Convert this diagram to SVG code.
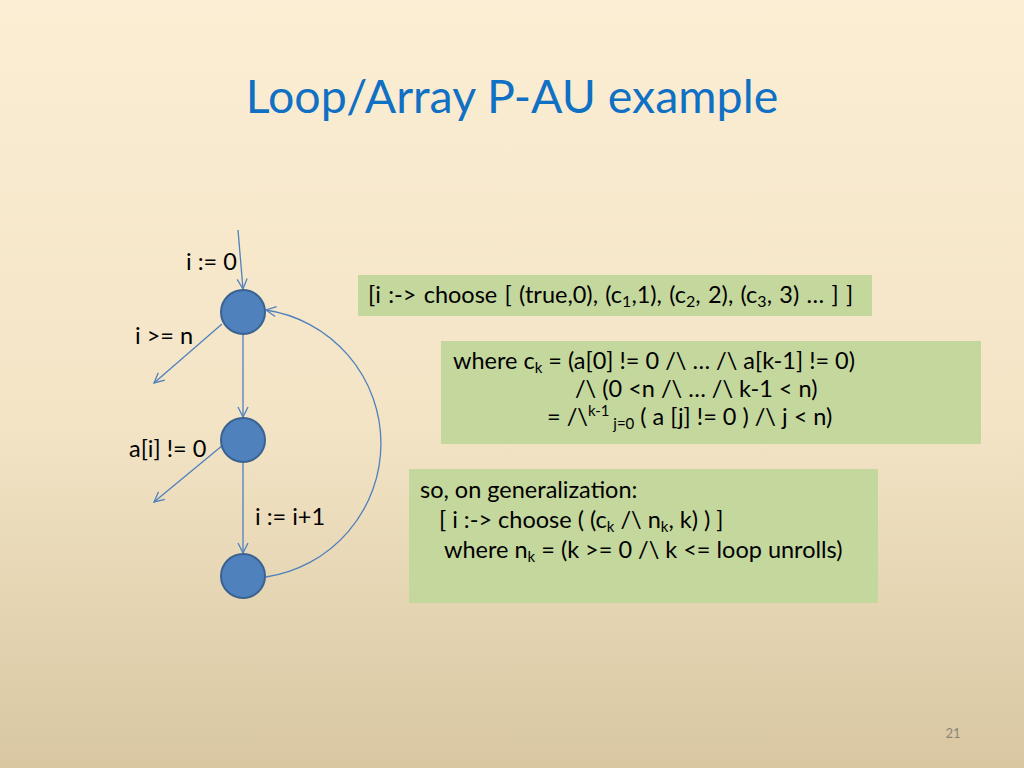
<svg xmlns="http://www.w3.org/2000/svg" width="1024" height="768" viewBox="0 0 1024 768">
<defs>
<linearGradient id="bg" x1="0" y1="0" x2="0" y2="1">
<stop offset="0" stop-color="#FCEED4"/>
<stop offset="0.55" stop-color="#F3E4C6"/>
<stop offset="1" stop-color="#D8C7A1"/>
</linearGradient>
<marker id="arr" viewBox="0 0 12 12" refX="11" refY="6" markerWidth="12" markerHeight="12" markerUnits="userSpaceOnUse" orient="auto">
<path d="M1,1 L11,6 L1,11" fill="none" stroke="#4F81BD" stroke-width="1.3"/>
</marker>
<style>
text{font-family:"Lato","Liberation Sans",sans-serif;fill:#000;}
.lbl{font-size:23.5px;}
.box{fill:#C4D79D;}
.bt{font-size:23.5px;}
.node{fill:#4F81BD;stroke:#3A6290;stroke-width:2;}
.edge{fill:none;stroke:#4F81BD;stroke-width:1.3;}
.sub{font-size:15px;}
</style>
</defs>
<rect width="1024" height="768" fill="url(#bg)"/>
<text x="512" y="113" text-anchor="middle" style="font-size:46.5px;fill:#1070C4;">Loop/Array P-AU example</text>

<g id="connectors">
<path class="edge" d="M238,230 L243,289" marker-end="url(#arr)"/>
<path class="edge" d="M222,324 L154,383" marker-end="url(#arr)"/>
<path class="edge" d="M243,335 L243,417" marker-end="url(#arr)"/>
<path class="edge" d="M223,445 L154,502" marker-end="url(#arr)"/>
<path class="edge" d="M243,463 L243,553" marker-end="url(#arr)"/>
<path class="edge" d="M266,577 A135,135 0 0 0 266,310" marker-end="url(#arr)"/>
</g>

<g id="n1"><circle class="node" cx="243" cy="312" r="22"/></g>
<g id="n2"><circle class="node" cx="243" cy="440" r="22"/></g>
<g id="n3"><circle class="node" cx="243" cy="576" r="22"/></g>

<g id="labels">
<text class="lbl" x="186" y="270">i := 0</text>
<text class="lbl" x="135" y="344">i &gt;= n</text>
<text class="lbl" x="129" y="457">a[i] != 0</text>
<text class="lbl" x="255" y="525">i := i+1</text>
</g>

<g id="box1">
<rect class="box" x="358" y="275" width="514" height="41"/>
<text class="bt" x="368" y="303" style="word-spacing:1.3px;">[i :-&gt; choose [ (true,0), (c<tspan class="sub" dy="4" style="font-size:16px;">1</tspan><tspan dy="-4">,1), (c</tspan><tspan class="sub" dy="4" style="font-size:16px;">2</tspan><tspan dy="-4">, 2), (c</tspan><tspan class="sub" dy="4" style="font-size:16px;">3</tspan><tspan dy="-4">, 3) … ] ]</tspan></text>
</g>

<g id="box2">
<rect class="box" x="441" y="341" width="540" height="103"/>
<text class="bt" x="453" y="369">where c<tspan class="sub" dy="4">k</tspan><tspan dy="-4"> = (a[0] != 0 /\ … /\ a[k-1] != 0)</tspan></text>
<text class="bt" x="575" y="397">/\ (0 &lt;n /\ … /\ k-1 &lt; n)</text>
<text class="bt" x="547" y="425">= /\<tspan class="sub" dy="-9">k-1</tspan><tspan class="sub" dy="13"> j=0</tspan><tspan dy="-4">   ( a [j] != 0 ) /\ j &lt; n)</tspan></text>
</g>

<g id="box3">
<rect class="box" x="409" y="469" width="469" height="134"/>
<text class="bt" x="420" y="498">so, on generalization:</text>
<text class="bt" x="439" y="528">[ i :-&gt; choose ( (c<tspan class="sub" dy="4">k</tspan><tspan dy="-4"> /\ n</tspan><tspan class="sub" dy="4">k</tspan><tspan dy="-4">, k) ) ]</tspan></text>
<text class="bt" x="444" y="558">where n<tspan class="sub" dy="4">k</tspan><tspan dy="-4"> = (k &gt;= 0 /\ k &lt;= loop unrolls)</tspan></text>
</g>

<text x="953" y="738" text-anchor="middle" style="font-size:13px;fill:#8A8778;">21</text>
</svg>
